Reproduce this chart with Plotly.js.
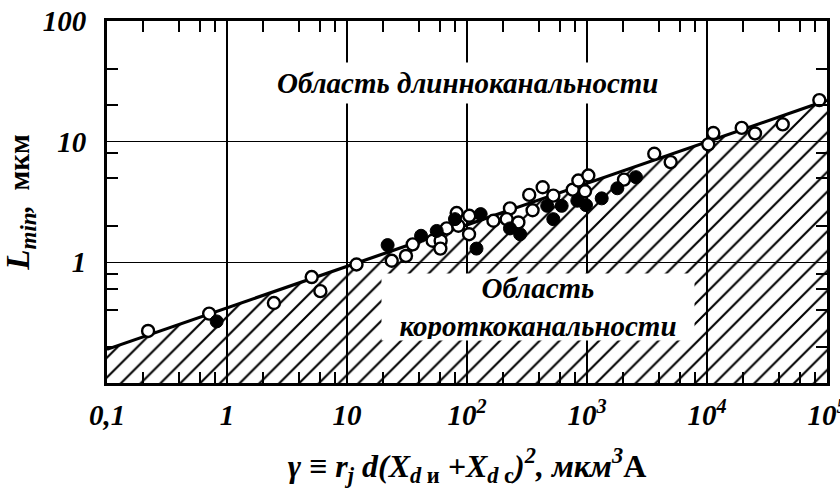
<!DOCTYPE html>
<html>
<head>
<meta charset="utf-8">
<script src="https://cdn.plot.ly/plotly-3.0.1.min.js"></script>
<style>html,body{margin:0;padding:0;background:#fff}</style>
</head>
<body>
<div id="chart" style="width:840px;height:495px"></div>
<script>
// Measured points: open circles
const openGamma = [0.22, 0.71, 2.46, 5.08, 6.0, 12.0, 23.6, 31, 35.3, 51.7, 60.3, 60, 67.7, 82, 84.7,
  104.5, 104, 166, 228, 214, 268, 352, 330, 427, 524, 760, 847, 1026, 962, 2033, 3636, 4979,
  10250, 11290, 19460, 25120, 42760, 86300];
const openL = [0.27, 0.376, 0.46, 0.755, 0.577, 0.96, 1.03, 1.13, 1.41, 1.51, 1.51, 1.3, 1.91, 2.56, 2.01,
  2.43, 1.71, 2.21, 2.80, 2.28, 2.14, 2.70, 3.62, 4.19, 3.57, 4.0, 4.76, 5.24, 3.88, 4.85, 7.94, 6.77,
  9.5, 11.8, 13.0, 11.7, 13.9, 22.1];

// Measured points: filled circles
const filledGamma = [0.82, 21.8, 41.4, 55.9, 79.4, 120, 130, 228, 277, 466, 615, 524, 830, 981, 1326, 1790, 2557];
const filledL = [0.324, 1.39, 1.66, 1.82, 2.28, 1.3, 2.51, 1.91, 1.71, 2.94, 2.94, 2.28, 3.24, 2.98, 3.39, 4.11, 5.08];

// Boundary line L_min(gamma)
const boundaryGamma = [0.1, 100000];
const boundaryL = [0.19, 22];

// Axis bottom (the hatched short-channel region extends down to it)
const yFloor = 0.1;

const xTickVals = [0.1, 1, 10, 100, 1000, 10000, 100000];
const xTickText = ['0,1', '1', '10', '10<sup>2</sup>', '10<sup>3</sup>', '10<sup>4</sup>', '10<sup>5</sup>'];
const xMinorTicks = [0.2, 0.4, 0.6, 0.8, 2, 4, 6, 8, 20, 40, 60, 80, 200, 400, 600, 800,
  2000, 4000, 6000, 8000, 20000, 40000, 60000, 80000];
const yTickVals = [1, 10, 100];
const yTickText = ['1', '10', '100'];
const yMinorTicks = [0.2, 0.4, 0.6, 0.8, 2, 5, 8, 20, 40];

const serif = 'Liberation Serif';

const traces = [
  {
    // hatched region under the boundary
    x: boundaryGamma.concat(boundaryGamma.slice().reverse()),
    y: boundaryL.concat([yFloor, yFloor]),
    mode: 'lines',
    line: {width: 0, color: 'rgba(0,0,0,0)'},
    fill: 'toself',
    fillcolor: 'rgba(0,0,0,0)',
    fillpattern: {shape: '/', size: 14, solidity: 0.15, fgcolor: '#000', bgcolor: 'rgba(0,0,0,0)'},
    hoverinfo: 'skip'
  },
  {
    x: boundaryGamma, y: boundaryL,
    mode: 'lines',
    line: {color: '#000', width: 3.2}
  },
  {
    x: openGamma, y: openL,
    mode: 'markers',
    marker: {symbol: 'circle', size: 12, color: '#fff', line: {color: '#000', width: 2.4}}
  },
  {
    x: filledGamma, y: filledL,
    mode: 'markers',
    marker: {symbol: 'circle', size: 13, color: '#000', line: {color: '#000', width: 1}}
  }
];

const tickFont = {family: serif, size: 29, color: '#000', weight: 'bold', style: 'italic'};

const layout = {
  width: 840, height: 495,
  margin: {l: 107, r: 13, t: 21, b: 112},
  paper_bgcolor: '#fff', plot_bgcolor: '#fff',
  showlegend: false,
  xaxis: {
    type: 'log', range: [-1, 5],
    tickmode: 'array', tickvals: xTickVals, ticktext: xTickText,
    ticks: '', ticklabelstandoff: 4, ticklabeloverflow: 'allow',
    showgrid: true, gridcolor: '#000', gridwidth: 1.6,
    showline: true, linecolor: '#000', linewidth: 3, mirror: 'ticks',
    zeroline: false, tickfont: tickFont,
    minor: {tickmode: 'array', tickvals: xMinorTicks, ticks: 'inside', ticklen: 11, tickwidth: 2, tickcolor: '#000', showgrid: false},
    title: {
      text: '<i>γ ≡ r<sub>j</sub> d(X<sub>d</sub></i><sub> и</sub> <i>+X<sub>d</sub></i><sub> с</sub><i>)<sup>2</sup>, мкм<sup>3</sup></i>А',
      font: {family: serif, size: 32, color: '#000', weight: 'bold'},
      standoff: 25
    }
  },
  yaxis: {
    type: 'log', range: [-1, 2],
    tickmode: 'array', tickvals: yTickVals, ticktext: yTickText,
    ticks: '', ticklabelstandoff: 12, ticklabeloverflow: 'allow',
    showgrid: true, gridcolor: '#000', gridwidth: 1.6,
    showline: true, linecolor: '#000', linewidth: 3, mirror: 'ticks',
    zeroline: false, tickfont: tickFont,
    minor: {tickmode: 'array', tickvals: yMinorTicks, ticks: 'inside', ticklen: 11, tickwidth: 2, tickcolor: '#000', showgrid: false},
    title: {
      text: '<i>L<sub>min</sub></i><span style="font-size:29px"><i>,</i>  мкм</span>',
      font: {family: serif, size: 33, color: '#000', weight: 'bold'},
      standoff: 10
    }
  },
  annotations: [
    {
      xref: 'paper', yref: 'paper', x: 0.5, y: 0.829, xanchor: 'center', yanchor: 'middle',
      text: 'Область длинноканальности',
      showarrow: false, bgcolor: '#fff', borderpad: 4,
      font: {family: serif, size: 29, color: '#000', weight: 'bold', style: 'italic'}
    },
    {
      xref: 'paper', yref: 'paper', x: 0.599, y: 0.21, xanchor: 'center', yanchor: 'middle',
      text: 'Область<br>короткоканальности',
      showarrow: false, bgcolor: '#fff', width: 310, height: 64,
      font: {family: serif, size: 29, color: '#000', weight: 'bold', style: 'italic'}
    }
  ]
};

Plotly.newPlot('chart', traces, layout, {displayModeBar: false, staticPlot: true});
</script>
</body>
</html>
